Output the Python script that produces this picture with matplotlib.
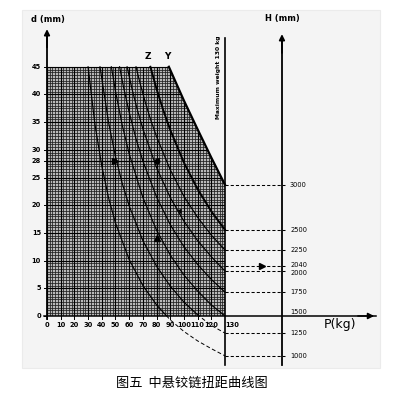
import matplotlib
matplotlib.use('Agg')
import matplotlib.pyplot as plt
from matplotlib.collections import LineCollection
from matplotlib.patches import Polygon, Rectangle
import numpy as np

plt.rcParams['font.family'] = ['DejaVu Sans']

# curves: load P (kg) against hinge spacing d (mm)
p_1000 = [30, 35, 40, 45, 50, 60, 70, 80, 90, 100, 110, 120, 130]
d_1000 = [45.0, 34.6, 27.1, 21.3, 16.8, 10.2, 5.5, 2.0, -0.7, -2.8, -4.5, -5.9, -7.2]

p_1250 = [38.7, 45, 50, 55, 60, 70, 80, 90, 100, 110, 120, 130]
d_1250 = [45.0, 34.9, 28.8, 23.9, 19.9, 13.6, 9.0, 5.4, 2.5, 0.2, -1.7, -3.1]

p_1500 = [47, 50, 55, 60, 70, 80, 90, 100, 110, 120, 130]
d_1500 = [45.0, 40.6, 34.4, 29.3, 21.4, 15.5, 11.0, 7.4, 4.5, 2.0, 0.0]

p_1750 = [53, 56, 60, 65, 70, 80, 90, 100, 110, 120, 130]
d_1750 = [45.0, 41.2, 36.8, 32.0, 28.0, 21.5, 16.5, 12.5, 9.3, 6.6, 4.3]

p_2000 = [58.5, 62, 66, 70, 80, 90, 100, 110, 120, 130]
d_2000 = [45.0, 41.1, 37.2, 33.8, 26.8, 21.4, 17.1, 13.6, 10.7, 8.1]

p_2250 = [65, 68, 72, 76, 80, 90, 100, 110, 120, 130]
d_2250 = [45.0, 42.0, 38.4, 35.2, 32.4, 26.4, 21.6, 17.8, 14.6, 11.9]

p_z = [75.5, 80, 85, 90, 100, 110, 120, 130]
d_z = [45.0, 41.0, 37.1, 33.6, 27.7, 22.9, 18.9, 15.55]

p_y = [89, 100, 110, 120, 130]
d_y = [45.0, 38.9, 33.7, 28.6, 23.7]

thin_curves = [(p_1000, d_1000), (p_1250, d_1250), (p_1500, d_1500),
               (p_1750, d_1750), (p_2000, d_2000), (p_2250, d_2250)]

# H (mm) scale on the right, with the d level each value lines up with
h_labels = ['3000', '2500', '2250', '2040', '2000', '1750', '1500', '1250', '1000']
h_level = [23.7, 15.55, 11.9, 9.1, 8.1, 4.3, 0.0, -3.1, -7.2]
h_text = [23.7, 15.55, 11.9, 9.25, 7.85, 4.3, 0.7, -3.1, -7.2]

p_ticks = [0, 10, 20, 30, 40, 50, 60, 70, 80, 90, 100, 110, 120]
d_ticks = [0, 5, 10, 15, 20, 25, 28, 30, 35, 40, 45]

# worked example: d = 28 mm, P = 80 kg -> H = 2040 mm
ex_p = 80
ex_d = 28
ex_h_level = 9.1

fig = plt.figure(figsize=(4.04, 3.97), dpi=100)
ax = fig.add_axes([0, 0, 1, 1])
ax.set_xlim(-34.33, 260.73)
ax.set_ylim(-14.63, 57.06)
ax.axis('off')

ax.add_patch(Rectangle((-18.26, -9.39), 261.46, 64.65, fc='#f4f4f4', ec='#ebebeb', lw=0.8, zorder=0))

# shaded mesh area, bounded on the right by curve Y
region = [(0, 0), (130, 0)] + list(zip(p_y[::-1], d_y[::-1])) + [(0, 45)]
mesh = Polygon(region, closed=True, fc='#b9b9b9', ec='none', zorder=1)
ax.add_patch(mesh)

fine = []
for x in np.arange(0, 131, 2):
    fine.append([(x, 0), (x, 45)])
for y in np.arange(0, 45.01, 0.5):
    fine.append([(0, y), (130, y)])
lc = LineCollection(fine, colors='#1e1e1e', linewidths=0.55, zorder=2)
ax.add_collection(lc)
lc.set_clip_path(mesh)

major = []
for x in np.arange(0, 131, 10):
    major.append([(x, 0), (x, 45)])
for y in np.arange(0, 45.01, 5):
    major.append([(0, y), (130, y)])
lc2 = LineCollection(major, colors='#000000', linewidths=0.8, zorder=3)
ax.add_collection(lc2)
lc2.set_clip_path(mesh)

above = Rectangle((-50, 0), 400, 60, transform=ax.transData)
below = Rectangle((-50, -30), 400, 30, transform=ax.transData)
for p, d in thin_curves:
    l1, = ax.plot(p, d, color='k', lw=0.85, zorder=4)
    l1.set_clip_path(above)
    l2, = ax.plot(p, d, color='k', lw=0.7, ls=(0, (4, 2.5)), zorder=4)
    l2.set_clip_path(below)

ax.plot(p_z, d_z, color='k', lw=1.4, zorder=5)
ax.plot(p_y, d_y, color='k', lw=1.6, zorder=5)
ax.text(73.8, 46.9, 'Z', fontsize=6.5, fontweight='bold', ha='center', va='center')
ax.text(87.6, 46.9, 'Y', fontsize=6.5, fontweight='bold', ha='center', va='center')

# axes lines
ax.plot([-2, 240], [0, 0], color='k', lw=1.1, zorder=6)
ax.annotate('', xy=(241, 0), xytext=(225, 0),
            arrowprops=dict(arrowstyle='-|>', color='k', lw=1.1, mutation_scale=9))
ax.plot([0, 0], [-0.6, 51], color='k', lw=1.3, zorder=6)
ax.annotate('', xy=(0, 52.3), xytext=(0, 48),
            arrowprops=dict(arrowstyle='-|>', color='k', lw=1.3, mutation_scale=8))
ax.plot([130, 130], [-8.85, 50.2], color='k', lw=1.2, zorder=6)
ax.plot([171.6, 171.6], [-8.85, 50], color='k', lw=1.3, zorder=6)
ax.annotate('', xy=(171.6, 51.4), xytext=(171.6, 47),
            arrowprops=dict(arrowstyle='-|>', color='k', lw=1.3, mutation_scale=8))

for p in p_ticks:
    ax.plot([p, p], [0, -0.6], color='k', lw=0.7)
    ax.text(p, -1.65, str(p), fontsize=4.8, fontweight='bold', ha='center', va='center')
ax.text(135, -1.65, '130', fontsize=4.8, fontweight='bold', ha='center', va='center')
for d in d_ticks:
    ax.plot([-2.2, 0], [d, d], color='k', lw=0.7)
    ax.text(-4.4, d, str(d), fontsize=4.8, fontweight='bold', ha='right', va='center')

for lab, lev, tpos in zip(h_labels, h_level, h_text):
    if lab != '1500':
        ax.plot([130, 173.5], [lev, lev], color='k', lw=0.75, ls=(0, (3, 2)), zorder=6)
    ax.text(177.5, tpos, lab, fontsize=4.8, ha='left', va='center')

# worked example path
ax.plot([0, ex_p], [ex_d, ex_d], color='k', lw=0.9, zorder=6)
ax.plot([ex_p, ex_p], [0, ex_d], color='k', lw=0.9, zorder=6)
ax.plot([50], [ex_d], marker='>', color='k', ms=4, zorder=7)
ax.plot([ex_p], [14], marker='^', color='k', ms=4.5, zorder=7)
ax.plot([ex_p], [ex_d], marker='o', color='k', ms=3.2, zorder=7)
ax.annotate('', xy=(84.5, 28.8), xytext=(81, 28.2),
            arrowprops=dict(arrowstyle='-|>', color='k', lw=0.6, mutation_scale=5))
ax.annotate('', xy=(99.2, 17.9), xytext=(96.5, 19.3),
            arrowprops=dict(arrowstyle='-|>', color='k', lw=0.8, mutation_scale=6), zorder=7)
ax.plot([157], [ex_h_level], marker='>', color='k', ms=4, zorder=7)

ax.text(0.7, 53.45, 'd (mm)', fontsize=6, fontweight='bold', ha='center', va='center')
ax.text(171.6, 53.8, 'H (mm)', fontsize=6, fontweight='bold', ha='center', va='center')
ax.text(214, -1.6, 'P(kg)', fontsize=9, ha='center', va='center')
ax.text(125.0, 43.2, 'Maximum weight 130 kg', fontsize=4.3, fontweight='bold',
        rotation=90, ha='center', va='center')

ax.text(105.9, -12.1, '图五  中悬铰链扭距曲线图', fontsize=9.5, ha='center', va='center',
        family=['Noto Sans CJK SC', 'DejaVu Sans'])

fig.savefig('out.png', dpi=100)
